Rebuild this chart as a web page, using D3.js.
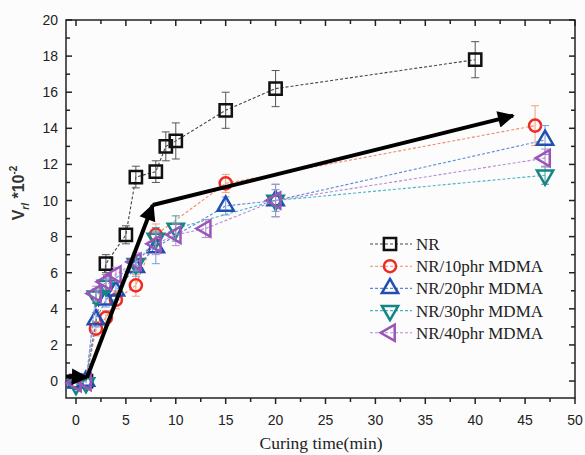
<!DOCTYPE html>
<html><head><meta charset="utf-8">
<script src="https://cdn.jsdelivr.net/npm/d3@7"></script>
<style>body{margin:0;background:#fcfcfd;} svg{display:block;}</style>
</head><body>
<script>
// ---------- data ----------
const seriesNames = ["NR", "NR/10phr MDMA", "NR/20phr MDMA", "NR/30phr MDMA", "NR/40phr MDMA"];
const nrTime  = [0, 1, 3, 5, 6, 8, 9, 10, 15, 20, 40];
const nrVal   = [0, 0, 6.5, 8.1, 11.3, 11.6, 13.0, 13.3, 15.0, 16.2, 17.8];
const nrErr   = [0, 0, 0.5, 0.5, 0.6, 0.6, 0.8, 1.0, 1.0, 1.0, 1.0];
const m10Time = [0, 1, 2, 3, 4, 6, 8, 15, 46];
const m10Val  = [-0.1, 0, 2.9, 3.5, 4.5, 5.3, 8.1, 10.95, 14.15];
const m10Err  = [0, 0, 0.4, 0.4, 0.5, 0.6, 0.6, 0.5, 1.1];
const m20Time = [0, 1, 2, 3, 4, 6, 8, 15, 20, 47];
const m20Val  = [-0.1, 0, 3.4, 4.5, 5.0, 6.3, 7.4, 9.7, 10.0, 13.35];
const m20Err  = [0, 0, 0.4, 0.4, 0.5, 0.5, 0.9, 0.5, 0.6, 0.8];
const m30Time = [0, 1, 2, 3, 6, 8, 10, 20, 47];
const m30Val  = [-0.2, -0.1, 4.7, 5.3, 6.5, 7.9, 8.45, 10.0, 11.4];
const m30Err  = [0, 0, 0.4, 0.4, 0.5, 0.6, 0.7, 0.9, 0.5];
const m40Time = [0, 1, 2, 3, 4, 6, 8, 10, 13, 20, 47];
const m40Val  = [-0.1, -0.05, 4.85, 5.5, 5.9, 6.6, 7.6, 8.1, 8.45, 10.0, 12.35];
const m40Err  = [0, 0, 0.4, 0.4, 0.4, 0.5, 0.6, 0.6, 0.5, 0.9, 0.5];
const trendTime = [-1, 1.1, 7.7, 43.8];
const trendVal  = [0.25, 0.2, 9.75, 14.7];
const xTicks = [0, 5, 10, 15, 20, 25, 30, 35, 40, 45, 50];
const yTicks = [0, 2, 4, 6, 8, 10, 12, 14, 16, 18, 20];

const W = 585, H = 455;
const svg = d3.select("body").append("svg").attr("width", W).attr("height", H);
const defs = svg.append("defs");
defs.append("marker").attr("id", "ah").attr("viewBox", "0 0 10 10").attr("refX", 9).attr("refY", 5)
  .attr("markerWidth", 6).attr("markerHeight", 4.2).attr("markerUnits", "strokeWidth").attr("orient", "auto")
  .append("path").attr("d", "M0,0 L10,5 L0,10 Z").attr("fill", "#000");

const x = d3.scaleLinear().domain([-1, 50]).range([66, 575]);
const y = d3.scaleLinear().domain([-0.94, 20]).range([398, 20]);

const styles = [
  {mark: "#111", line: "#444", err: "#555", sym: d3.symbolSquare, size: 150, rot: 0},
  {mark: "#ee2a22", line: "#f28a66", err: "#f2a080", sym: d3.symbolCircle, size: 115, rot: 0},
  {mark: "#1f4fb0", line: "#5a8ad6", err: "#7a9ad8", sym: d3.symbolTriangle, size: 115, rot: 0},
  {mark: "#138585", line: "#48b4c4", err: "#4a9a9a", sym: d3.symbolTriangle, size: 115, rot: 180},
  {mark: "#9a55b8", line: "#b68ad6", err: "#b090c8", sym: d3.symbolTriangle, size: 115, rot: -90}
];
const series = [
  [nrTime, nrVal, nrErr], [m10Time, m10Val, m10Err], [m20Time, m20Val, m20Err],
  [m30Time, m30Val, m30Err], [m40Time, m40Val, m40Err]
].map((s, i) => ({name: seriesNames[i], st: styles[i],
  pts: s[0].map((t, j) => ({t, v: s[1][j], e: s[2][j]}))}));

// frame + ticks
const g = svg.append("g");
g.append("rect").attr("x", x(-1)).attr("y", y(20)).attr("width", x(50) - x(-1)).attr("height", y(-0.94) - y(20))
  .attr("fill", "none").attr("stroke", "#222").attr("stroke-width", 1.5);
const xMinor = d3.range(0, 50.01, 2.5);
const yMinor = d3.range(0, 20.01, 1);
xMinor.forEach(t => {
  const maj = t % 5 === 0, L = maj ? 6 : 4;
  g.append("line").attr("x1", x(t)).attr("x2", x(t)).attr("y1", y(-0.94)).attr("y2", y(-0.94) + L).attr("stroke", "#222").attr("stroke-width", 1.5);
  g.append("line").attr("x1", x(t)).attr("x2", x(t)).attr("y1", y(20)).attr("y2", y(20) + L).attr("stroke", "#222").attr("stroke-width", 1.5);
});
yMinor.forEach(v => {
  const maj = v % 2 === 0, L = maj ? 6 : 4;
  g.append("line").attr("x1", x(-1)).attr("x2", x(-1) + L).attr("y1", y(v)).attr("y2", y(v)).attr("stroke", "#222").attr("stroke-width", 1.5);
  g.append("line").attr("x1", x(50)).attr("x2", x(50) - L).attr("y1", y(v)).attr("y2", y(v)).attr("stroke", "#222").attr("stroke-width", 1.5);
});
g.selectAll(".xl").data(xTicks).enter().append("text").attr("x", d => x(d)).attr("y", 425)
  .attr("text-anchor", "middle").attr("font-family", "Liberation Sans, Arial, sans-serif").attr("font-size", 14)
  .attr("fill", "#222").text(d => d);
g.selectAll(".yl").data(yTicks).enter().append("text").attr("x", 58).attr("y", d => y(d) + 5)
  .attr("text-anchor", "end").attr("font-family", "Liberation Sans, Arial, sans-serif").attr("font-size", 14)
  .attr("fill", "#222").text(d => d);

// axis titles
svg.append("text").attr("x", 321).attr("y", 449).attr("text-anchor", "middle")
  .attr("font-family", "Liberation Serif, Times New Roman, serif").attr("font-size", 17.5).attr("fill", "#222")
  .text("Curing time(min)");
const yt = svg.append("text").attr("transform", "translate(24,193) rotate(-90)").attr("text-anchor", "middle")
  .attr("font-family", "Liberation Sans, Arial, sans-serif").attr("font-size", 16).attr("font-weight", "bold").attr("fill", "#333");
yt.append("tspan").text("V");
yt.append("tspan").attr("font-size", 10).attr("font-style", "italic").attr("dy", 5).text("rl");
yt.append("tspan").attr("dy", -5).text(" *10");
yt.append("tspan").attr("font-size", 10).attr("dy", -7).text("-2");

// series
const line = d3.line().x(d => x(d.t)).y(d => y(d.v));
series.forEach(s => {
  const sg = svg.append("g");
  sg.append("path").attr("d", line(s.pts)).attr("fill", "none").attr("stroke", s.st.line)
    .attr("stroke-width", 1.1).attr("stroke-dasharray", "3,2");
  s.pts.filter(p => p.e > 0).forEach(p => {
    sg.append("line").attr("x1", x(p.t)).attr("x2", x(p.t)).attr("y1", y(p.v - p.e)).attr("y2", y(p.v + p.e))
      .attr("stroke", s.st.err).attr("stroke-width", 1);
    [p.v - p.e, p.v + p.e].forEach(vv => sg.append("line").attr("x1", x(p.t) - 4).attr("x2", x(p.t) + 4)
      .attr("y1", y(vv)).attr("y2", y(vv)).attr("stroke", s.st.err).attr("stroke-width", 1));
  });
  sg.selectAll("path.m").data(s.pts).enter().append("path").attr("class", "m")
    .attr("d", d3.symbol().type(s.st.sym).size(s.st.size))
    .attr("transform", d => `translate(${x(d.t)},${y(d.v)}) rotate(${s.st.rot})`)
    .attr("fill", "none").attr("stroke", s.st.mark).attr("stroke-width", 2.5);
});

// trend arrows
const tp = trendTime.map((t, i) => ({t, v: trendVal[i]}));
for (let i = 0; i < tp.length - 1; i++) {
  svg.append("line").attr("x1", x(tp[i].t)).attr("y1", y(tp[i].v)).attr("x2", x(tp[i + 1].t)).attr("y2", y(tp[i + 1].v))
    .attr("stroke", "#000").attr("stroke-width", 4).attr("marker-end", "url(#ah)");
}

// legend
const lg = svg.append("g");
series.forEach((s, i) => {
  const yy = 244 + i * 22.2;
  lg.append("line").attr("x1", 370).attr("x2", 412).attr("y1", yy).attr("y2", yy)
    .attr("stroke", s.st.line).attr("stroke-width", 1.1).attr("stroke-dasharray", "3,2");
  lg.append("path").attr("d", d3.symbol().type(s.st.sym).size(s.st.size))
    .attr("transform", `translate(390,${yy}) rotate(${s.st.rot})`)
    .attr("fill", "none").attr("stroke", s.st.mark).attr("stroke-width", 2.5);
  lg.append("text").attr("x", 416).attr("y", yy + 6).attr("font-family", "Liberation Serif, Times New Roman, serif")
    .attr("font-size", 17).attr("fill", "#222").text(s.name);
});
</script>
</body></html>
